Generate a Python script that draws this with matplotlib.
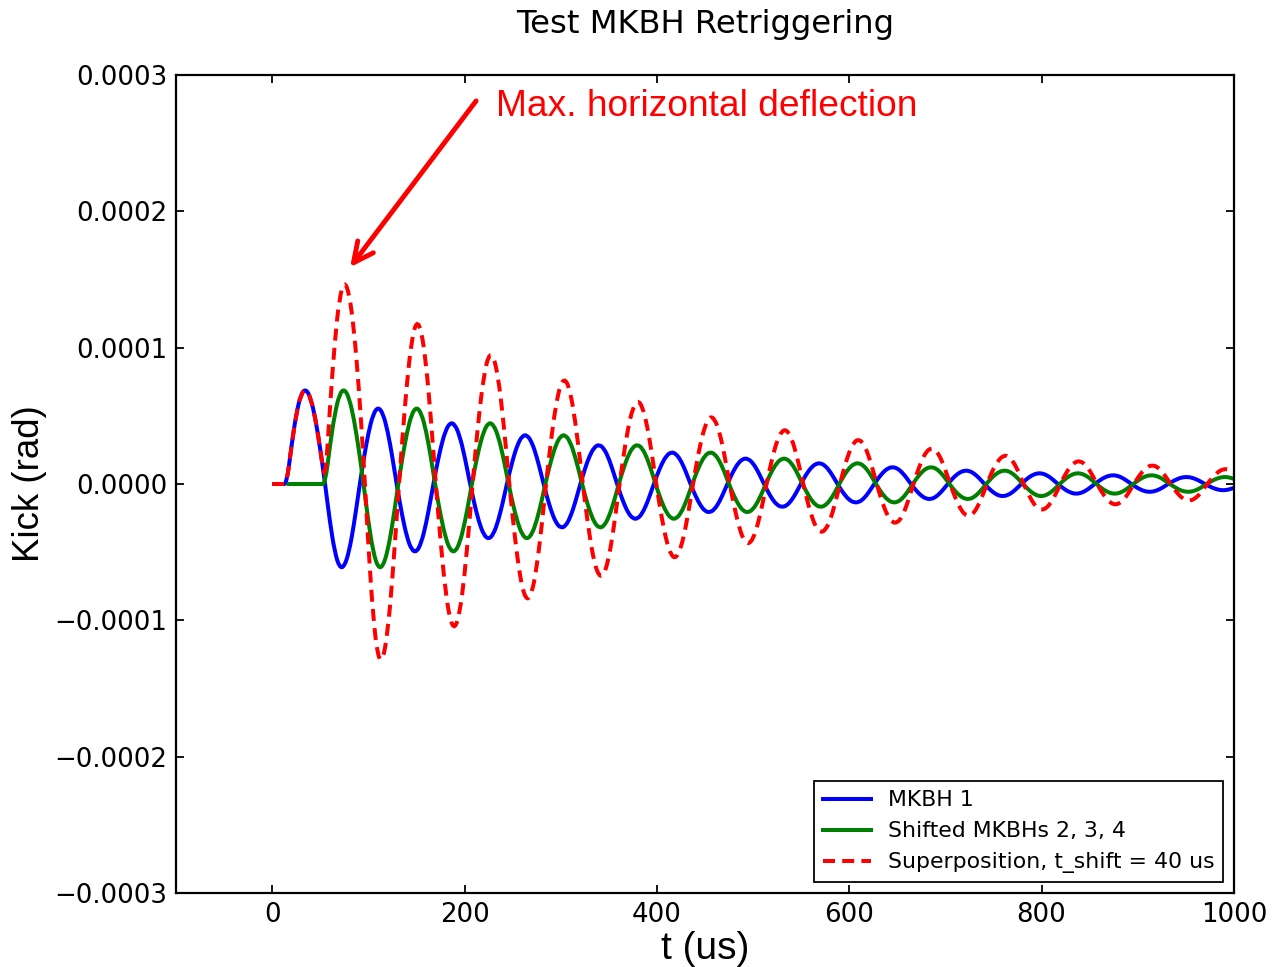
import matplotlib.pyplot as plt
import numpy as np
from matplotlib.lines import Line2D
from matplotlib.patches import PathPatch
from matplotlib.path import Path

# MKBH 1 kick, in microrad, one sample every 5 us from t = 0
t_step = 5
mkbh1_urad = [
    0.0, 0.0, 0.0, 0.0, 28.0, 51.5, 66.2, 69.8, 63.1, 47.7,
    25.5, 0.0, -27.9, -49.9, -61.4, -60.6, -49.3, -29.7, -5.1,
    17.8, 37.7, 51.4, 56.5, 52.1, 39.1, 19.5,
    -2.9, -22.8, -38.9, -48.5, -50.0, -43.2, -29.2, -10.3,
    9.3, 26.3, 38.9, 45.1, 43.7, 35.1, 20.6, 2.6,
    -14.0, -28.0, -37.4, -40.5, -36.9, -27.1, -12.8,
    3.3, 17.6, 28.9, 35.4, 36.0, 30.6, 20.1, 6.3,
    -7.7, -19.7, -28.4, -32.3, -30.9, -24.3, -13.7, -0.8,
    10.9, 20.8, 27.1, 29.0, 26.0, 18.7, 8.2,
    -3.2, -13.2, -21.1, -25.4, -25.5, -21.3, -13.6, -3.6,
    6.3, 14.8, 20.9, 23.5, 22.1, 17.1, 9.2,
    -0.2, -8.5, -15.5, -19.9, -20.9, -18.5, -13.0, -5.3,
    2.9, 10.2, 15.8, 18.7, 18.5, 15.2, 9.4, 2.0,
    -5.1, -11.2, -15.4, -17.0, -15.8, -12.0, -6.2,
    0.6, 6.8, 11.8, 14.8, 15.4, 13.4, 9.2, 3.4,
    -2.6, -7.8, -11.7, -13.6, -13.3, -10.8, -6.4, -1.0,
    4.1, 8.5, 11.5, 12.5, 11.5, 8.5, 4.1,
    -0.8, -5.2, -8.7, -10.8, -11.1, -9.5, -6.3, -2.1,
    2.2, 5.9, 8.6, 9.9, 9.6, 7.6, 4.4, 0.4,
    -3.2, -6.3, -8.4, -9.0, -8.1, -5.9, -2.7,
    0.8, 4.0, 6.4, 7.8, 7.9, 6.6, 4.3, 1.2,
    -1.8, -4.4, -6.3, -7.2, -6.8, -5.3, -2.9, -0.1,
    2.5, 4.7, 6.1, 6.5, 5.8, 4.1, 1.7,
    -0.8, -3.0, -4.8, -5.7, -5.7, -4.7, -3.0, -0.7,
    1.5, 3.3, 4.7, 5.2, 4.9, 3.7, 2.0,
    -0.1, -1.9, -3.4, -4.4, -4.6, -4.0, -2.8,
]

t_shift = 40        # us, delay of MKBHs 2, 3, 4
n_shifted = 3       # number of shifted kickers
green_start = 15    # us, first sample of the shifted trace

y_ticks = [-0.0003, -0.0002, -0.0001, 0.0, 0.0001, 0.0002, 0.0003]
x_ticks = [0, 200, 400, 600, 800, 1000]


def smooth_trace(ax, x, y, **style):
    """Draw the samples as a smooth curve (quadratic Bezier pieces through the midpoints)."""
    pts = np.column_stack([x, y])
    mids = (pts[:-1] + pts[1:]) / 2.0
    verts = [pts[0]]
    codes = [Path.MOVETO]
    verts.append(mids[0])
    codes.append(Path.LINETO)
    for i in range(1, len(pts) - 1):
        verts += [pts[i], mids[i]]
        codes += [Path.CURVE3, Path.CURVE3]
    verts.append(pts[-1])
    codes.append(Path.LINETO)
    patch = PathPatch(Path(verts, codes), facecolor='none', **style)
    ax.add_patch(patch)
    return patch


# Build the three traces
kick1 = np.array(mkbh1_urad) * 1e-6
t = np.arange(len(kick1)) * t_step
lag = t_shift // t_step
kick_shifted = np.concatenate([np.zeros(lag), kick1[:-lag]])
kick_total = kick1 + n_shifted * kick_shifted
show = t >= green_start

fig = plt.figure(figsize=(7.95, 6.044), dpi=160)
ax = fig.add_axes([0.1384, 0.0765, 0.8317, 0.8459])

lw = 1.8
dash = (0, (3.0, 1.8))
smooth_trace(ax, t, kick1, edgecolor='b', lw=lw)
smooth_trace(ax, t[show], kick_shifted[show], edgecolor='g', lw=lw)
smooth_trace(ax, t, kick_total, edgecolor='r', lw=lw, linestyle=dash, capstyle='butt')

ax.set_xlim(-100, 1000)
ax.set_ylim(-0.0003, 0.0003)
ax.set_xticks(x_ticks)
ax.set_yticks(y_ticks)
ax.set_yticklabels(['{:.4f}'.format(v).replace('-', '\u2212') if v != 0 else '0.0000' for v in y_ticks])
ax.tick_params(direction='in', length=3.5, width=0.8, top=True, right=True, labelsize=11.7, pad=4)
for spine in ax.spines.values():
    spine.set_linewidth(1.0)

# Labels
ax.set_title('Test MKBH Retriggering', fontsize=14.5, pad=19)
ax.set_xlabel('t (us)', fontsize=17.5, family='Liberation Sans', labelpad=1.2)
ax.set_ylabel('Kick (rad)', fontsize=16.5, family='Liberation Sans', labelpad=3)

# Arrow pointing at the largest peak
ax.annotate('', xy=(81, 1.59e-4), xytext=(212, 2.81e-4),
            arrowprops=dict(arrowstyle='->,head_length=0.45,head_width=0.22', color='r', lw=2.2,
                            mutation_scale=20, shrinkA=0, shrinkB=0))
ax.text(233, 2.77e-4, 'Max. horizontal deflection', color='r', fontsize=16.7,
        family='Liberation Sans', va='center', ha='left')

# Legend
handles = [
    Line2D([], [], color='b', lw=lw),
    Line2D([], [], color='g', lw=lw),
    Line2D([], [], color='r', lw=lw, ls='--', dashes=(3.0, 1.8)),
]
labels = ['MKBH 1', 'Shifted MKBHs 2, 3, 4', 'Superposition, t_shift = {} us'.format(t_shift)]
leg = ax.legend(handles, labels, loc='lower right', fontsize=9.9, fancybox=False, framealpha=1,
                edgecolor='black', handlelength=2.2, handletextpad=0.75, borderaxespad=0.5)
leg.get_frame().set_linewidth(0.8)

fig.savefig('out.png', dpi=160)
